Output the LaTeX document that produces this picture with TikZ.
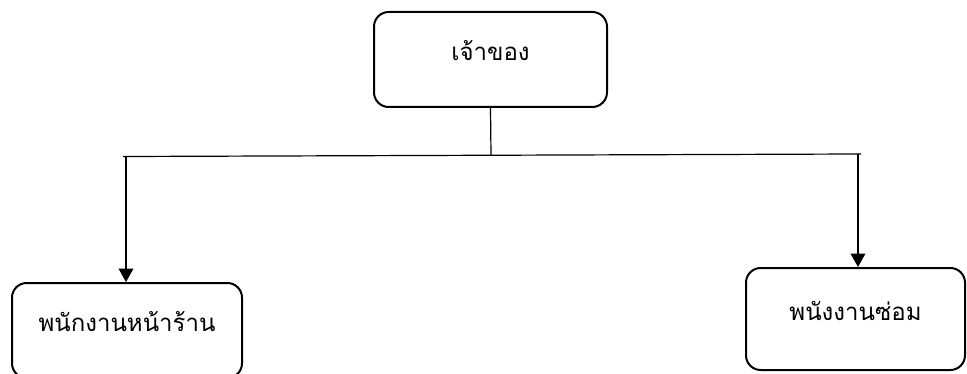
\documentclass[tikz,border=0pt]{standalone}
\usepackage{fontspec}
\newfontfamily\thaifont[Script=Thai]{Loma}
\usepackage{tikz}
\usetikzlibrary{arrows.meta}
\usetikzlibrary{positioning}

\begin{document}
\begin{tikzpicture}[
            x = 0.75pt, y = -0.75pt, % one unit = one pixel of the chart
            > = {Triangle[width=11pt,length=10pt]}, % arrow head style
            line width = 0.9pt % line style
        ]

        \tikzstyle{every box}=[
            draw,
            line width = 1.5pt,
            rounded corners = 11pt,
            font = \thaifont\fontsize{18}{20}\selectfont,
            text height = 8.5pt,
            text depth = 6.5pt
        ]

        \useasboundingbox (0,0) rectangle (967,374);

        % owner
        \node[every box, minimum width=174.75pt, minimum height=71.25pt] (O) at (490.5,59.5) {เจ้าของ};

        % staff
        \node[every box, minimum width=172.5pt, minimum height=71.25pt] (F) at (127,330.5) {พนักงานหน้าร้าน};
        \node[every box, minimum width=164.25pt, minimum height=76.5pt] (R) at (855.5,319) {พนังงานซ่อม};

        % branch line
        \coordinate (M) at (491,155);
        \coordinate (L) at (126,156.5);
        \coordinate (Rt) at (858,154);

        \draw (O.south) -- (M);
        \draw[shorten <=-2.25pt, shorten >=-2.25pt] (L) -- (Rt);

        \path[->] (L) edge (L |- F.north);
        \path[->] (Rt) edge (Rt |- R.north);

  \end{tikzpicture}
\end{document}
